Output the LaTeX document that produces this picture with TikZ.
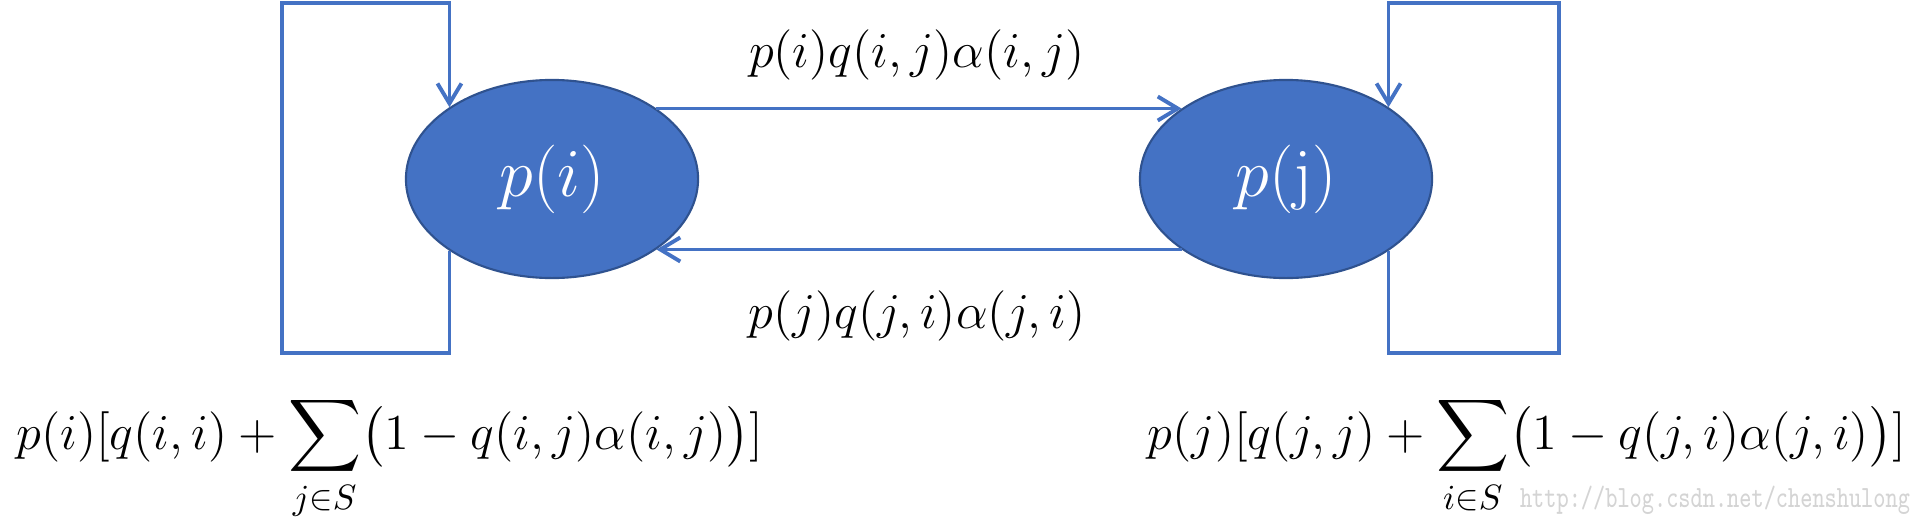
\documentclass[tikz,border=0pt]{standalone}
\usepackage{fix-cm}
\usepackage{amsmath}
\usetikzlibrary{shapes.geometric,arrows.meta}
\definecolor{officeblue}{HTML}{4472C4}
\definecolor{rimblue}{HTML}{2F528F}
\begin{document}
\begin{tikzpicture}[x=0.01cm,y=-0.01cm,
    statenode/.style={ellipse,fill=officeblue,draw=rimblue,line width=0.6pt,
      minimum width=2.92cm,minimum height=1.98cm,inner sep=0pt,text=white,
      font=\fontsize{19.5}{23}\selectfont},
    flow/.style={draw=officeblue,line width=1.1pt,
      -{Straight Barb[length=2mm,width=2.4mm]}},
    rate/.style={font=\fontsize{14.3}{17}\selectfont},
    balance/.style={font=\fontsize{14.3}{17}\selectfont,anchor=base}]
  \useasboundingbox (0,0) rectangle (1921,521);
  % the two states
  \node[statenode] (pi) at (552,179) {$p(i)$};
  \node[statenode] (pj) at (1286,179) {$p(\mathrm{j})$};
  % moves between them
  \draw[flow] (pi.34) -- (pj.146);
  \draw[flow] (pj.214) -- (pi.326);
  % staying put
  \draw[flow] (pi.215) |- (282,353) -- (282,3) -| (pi.145);
  \draw[flow] (pj.325) |- (1559,353) -- (1559,3) -| (pj.35);
  \node[rate] (lij) at (917,55) {$p(i)q(i,j)\alpha(i,j)$};
  \node[rate] (lji) at (917,316) {$p(j)q(j,i)\alpha(j,i)$};
  \node[balance] (bi) at (390,449)
    {$\displaystyle p(i)[q(i,i)+\sum_{j\in S}\bigl(1-q(i,j)\alpha(i,j)\bigr)]$};
  \node[balance] (bj) at (1527,449)
    {$\displaystyle p(j)[q(j,j)+\sum_{i\in S}\bigl(1-q(j,i)\alpha(j,i)\bigr)]$};
  \node[text=black!17,font=\ttfamily\fontsize{8.8}{10}\selectfont] (url) at (1715,500)
    {\scalebox{0.75}[1]{http://blog.csdn.net/chenshulong}};
\end{tikzpicture}
\end{document}
